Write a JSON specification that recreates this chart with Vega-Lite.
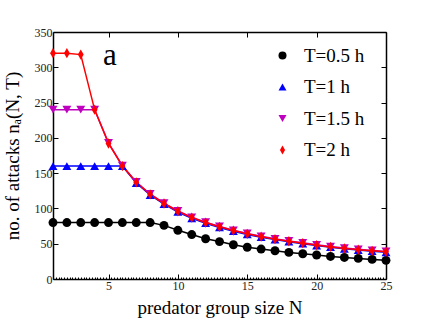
{
  "$schema": "https://vega.github.io/schema/vega-lite/v6.json",
  "width": 333,
  "height": 247,
  "autosize": {"type": "none"},
  "padding": {"left": 53, "top": 32, "right": 41, "bottom": 41},
  "background": "white",
  "config": {
    "view": {"stroke": null},
    "font": "Liberation Serif",
    "axis": {
      "domainColor": "#000000",
      "domainWidth": 1.5,
      "tickColor": "#000000",
      "tickWidth": 1,
      "grid": false,
      "labelFont": "Liberation Serif",
      "labelFontSize": 12,
      "labelColor": "#222222",
      "titleFont": "Liberation Serif",
      "titleFontSize": 19,
      "titleFontWeight": "normal",
      "titleColor": "#000000"
    },
    "legend": {
      "orient": "none",
      "legendX": 220,
      "legendY": 14,
      "padding": 0,
      "labelFont": "Liberation Serif",
      "labelFontSize": 19,
      "labelColor": "#000000",
      "labelOffset": 12,
      "rowPadding": 11.5,
      "symbolSize": 64,
      "symbolStrokeWidth": 0,
      "symbolOpacity": 1
    }
  },
  "data": {
    "values": [
      {"N": 1, "T": "T=0.5 h", "v": 80}, {"N": 2, "T": "T=0.5 h", "v": 80}, {"N": 3, "T": "T=0.5 h", "v": 80}, {"N": 4, "T": "T=0.5 h", "v": 80}, {"N": 5, "T": "T=0.5 h", "v": 80},
      {"N": 6, "T": "T=0.5 h", "v": 80}, {"N": 7, "T": "T=0.5 h", "v": 80}, {"N": 8, "T": "T=0.5 h", "v": 80}, {"N": 9, "T": "T=0.5 h", "v": 76}, {"N": 10, "T": "T=0.5 h", "v": 69},
      {"N": 11, "T": "T=0.5 h", "v": 63}, {"N": 12, "T": "T=0.5 h", "v": 57}, {"N": 13, "T": "T=0.5 h", "v": 53}, {"N": 14, "T": "T=0.5 h", "v": 48.5}, {"N": 15, "T": "T=0.5 h", "v": 45},
      {"N": 16, "T": "T=0.5 h", "v": 42.4}, {"N": 17, "T": "T=0.5 h", "v": 40}, {"N": 18, "T": "T=0.5 h", "v": 37.7}, {"N": 19, "T": "T=0.5 h", "v": 35.8}, {"N": 20, "T": "T=0.5 h", "v": 34},
      {"N": 21, "T": "T=0.5 h", "v": 32}, {"N": 22, "T": "T=0.5 h", "v": 30.6}, {"N": 23, "T": "T=0.5 h", "v": 29.2}, {"N": 24, "T": "T=0.5 h", "v": 27.8}, {"N": 25, "T": "T=0.5 h", "v": 26.4},

      {"N": 1, "T": "T=1 h", "v": 160}, {"N": 2, "T": "T=1 h", "v": 160}, {"N": 3, "T": "T=1 h", "v": 160}, {"N": 4, "T": "T=1 h", "v": 160}, {"N": 5, "T": "T=1 h", "v": 160},
      {"N": 6, "T": "T=1 h", "v": 160}, {"N": 7, "T": "T=1 h", "v": 136}, {"N": 8, "T": "T=1 h", "v": 119}, {"N": 9, "T": "T=1 h", "v": 106}, {"N": 10, "T": "T=1 h", "v": 95},
      {"N": 11, "T": "T=1 h", "v": 86}, {"N": 12, "T": "T=1 h", "v": 79}, {"N": 13, "T": "T=1 h", "v": 73}, {"N": 14, "T": "T=1 h", "v": 67.8}, {"N": 15, "T": "T=1 h", "v": 63.2},
      {"N": 16, "T": "T=1 h", "v": 59.3}, {"N": 17, "T": "T=1 h", "v": 55.8}, {"N": 18, "T": "T=1 h", "v": 52.8}, {"N": 19, "T": "T=1 h", "v": 50}, {"N": 20, "T": "T=1 h", "v": 47.4},
      {"N": 21, "T": "T=1 h", "v": 45}, {"N": 22, "T": "T=1 h", "v": 42.8}, {"N": 23, "T": "T=1 h", "v": 41}, {"N": 24, "T": "T=1 h", "v": 39.4}, {"N": 25, "T": "T=1 h", "v": 37.9},

      {"N": 1, "T": "T=1.5 h", "v": 240}, {"N": 2, "T": "T=1.5 h", "v": 240}, {"N": 3, "T": "T=1.5 h", "v": 240}, {"N": 4, "T": "T=1.5 h", "v": 240}, {"N": 5, "T": "T=1.5 h", "v": 193},
      {"N": 6, "T": "T=1.5 h", "v": 160.5}, {"N": 7, "T": "T=1.5 h", "v": 137.5}, {"N": 8, "T": "T=1.5 h", "v": 120.5}, {"N": 9, "T": "T=1.5 h", "v": 107.5}, {"N": 10, "T": "T=1.5 h", "v": 96.5},
      {"N": 11, "T": "T=1.5 h", "v": 87.5}, {"N": 12, "T": "T=1.5 h", "v": 80.5}, {"N": 13, "T": "T=1.5 h", "v": 74.5}, {"N": 14, "T": "T=1.5 h", "v": 69}, {"N": 15, "T": "T=1.5 h", "v": 64.5},
      {"N": 16, "T": "T=1.5 h", "v": 60.5}, {"N": 17, "T": "T=1.5 h", "v": 57}, {"N": 18, "T": "T=1.5 h", "v": 54}, {"N": 19, "T": "T=1.5 h", "v": 51.3}, {"N": 20, "T": "T=1.5 h", "v": 48.5},
      {"N": 21, "T": "T=1.5 h", "v": 46}, {"N": 22, "T": "T=1.5 h", "v": 43.8}, {"N": 23, "T": "T=1.5 h", "v": 42}, {"N": 24, "T": "T=1.5 h", "v": 40.5}, {"N": 25, "T": "T=1.5 h", "v": 39},

      {"N": 1, "T": "T=2 h", "v": 320}, {"N": 2, "T": "T=2 h", "v": 320}, {"N": 3, "T": "T=2 h", "v": 318}, {"N": 4, "T": "T=2 h", "v": 240}, {"N": 5, "T": "T=2 h", "v": 192},
      {"N": 6, "T": "T=2 h", "v": 160}, {"N": 7, "T": "T=2 h", "v": 137}, {"N": 8, "T": "T=2 h", "v": 120}, {"N": 9, "T": "T=2 h", "v": 107}, {"N": 10, "T": "T=2 h", "v": 96},
      {"N": 11, "T": "T=2 h", "v": 87}, {"N": 12, "T": "T=2 h", "v": 80}, {"N": 13, "T": "T=2 h", "v": 74}, {"N": 14, "T": "T=2 h", "v": 68.6}, {"N": 15, "T": "T=2 h", "v": 64},
      {"N": 16, "T": "T=2 h", "v": 60}, {"N": 17, "T": "T=2 h", "v": 56.5}, {"N": 18, "T": "T=2 h", "v": 53.5}, {"N": 19, "T": "T=2 h", "v": 50.8}, {"N": 20, "T": "T=2 h", "v": 48},
      {"N": 21, "T": "T=2 h", "v": 45.5}, {"N": 22, "T": "T=2 h", "v": 43.4}, {"N": 23, "T": "T=2 h", "v": 41.6}, {"N": 24, "T": "T=2 h", "v": 40}, {"N": 25, "T": "T=2 h", "v": 38.5}
    ]
  },
  "resolve": {"axis": {"x": "independent", "y": "independent"}},
  "layer": [
    {
      "mark": {"type": "point", "opacity": 0},
      "encoding": {
        "x": {"field": "N", "type": "quantitative", "scale": {"domain": [1, 25], "nice": false, "zero": false},
              "axis": {"orient": "top", "values": [5, 10, 15, 20, 25], "tickSize": -5, "labels": false, "title": null}},
        "y": {"field": "v", "type": "quantitative", "scale": {"domain": [0, 350], "nice": false},
              "axis": {"orient": "right", "values": [0, 50, 100, 150, 200, 250, 300, 350], "tickSize": -5, "labels": false, "title": null}}
      }
    },
    {
      "mark": {"type": "line", "strokeWidth": 1.5},
      "encoding": {
        "x": {"field": "N", "type": "quantitative", "scale": {"domain": [1, 25], "nice": false, "zero": false},
              "axis": {"orient": "bottom",
                       "values": [1,1.2,1.4,1.6,1.8,2,2.2,2.4,2.6,2.8,3,3.2,3.4,3.6,3.8,4,4.2,4.4,4.6,4.8,5,5.2,5.4,5.6,5.8,6,6.2,6.4,6.6,6.8,7,7.2,7.4,7.6,7.8,8,8.2,8.4,8.6,8.8,9,9.2,9.4,9.6,9.8,10,10.2,10.4,10.6,10.8,11,11.2,11.4,11.6,11.8,12,12.2,12.4,12.6,12.8,13,13.2,13.4,13.6,13.8,14,14.2,14.4,14.6,14.8,15,15.2,15.4,15.6,15.8,16,16.2,16.4,16.6,16.8,17,17.2,17.4,17.6,17.8,18,18.2,18.4,18.6,18.8,19,19.2,19.4,19.6,19.8,20,20.2,20.4,20.6,20.8,21,21.2,21.4,21.6,21.8,22,22.2,22.4,22.6,22.8,23,23.2,23.4,23.6,23.8,24,24.2,24.4,24.6,24.8,25],
                       "tickSize": {"condition": {"test": "datum.value % 5 === 0", "value": -5}, "value": -2},
                       "labelExpr": "datum.value % 5 === 0 ? format(datum.value, 'd') : ''",
                       "labelFlush": false,
                       "labelOverlap": false,
                       "labelPadding": 6,
                       "title": "predator group size N",
                       "titlePadding": 4}},
        "y": {"field": "v", "type": "quantitative", "scale": {"domain": [0, 350], "nice": false},
              "axis": {"orient": "left", "values": [0, 50, 100, 150, 200, 250, 300, 350], "tickSize": -5,
                       "labelPadding": 6, "labelFlush": false, "labelOverlap": false,
                       "title": "no. of attacks nₐ(N, T)", "titlePadding": 12}},
        "color": {"field": "T", "type": "nominal", "title": null,
                  "scale": {"domain": ["T=0.5 h", "T=1 h", "T=1.5 h", "T=2 h"], "range": ["#000000", "#0000ff", "#bf00bf", "#ff0000"]}}
      }
    },
    {
      "mark": {"type": "point", "filled": true, "opacity": 1, "strokeWidth": 0, "size": 80},
      "encoding": {
        "x": {"field": "N", "type": "quantitative", "axis": null},
        "y": {"field": "v", "type": "quantitative", "axis": null},
        "color": {"field": "T", "type": "nominal", "title": null,
                  "scale": {"domain": ["T=0.5 h", "T=1 h", "T=1.5 h", "T=2 h"], "range": ["#000000", "#0000ff", "#bf00bf", "#ff0000"]}},
        "shape": {"field": "T", "type": "nominal", "title": null,
                  "scale": {"domain": ["T=0.5 h", "T=1 h", "T=1.5 h", "T=2 h"], "range": ["circle", "triangle-up", "triangle-down", "M0,-1.15L0.65,0L0,1.15L-0.65,0Z"]}}
      }
    },
    {
      "data": {"values": [{}]},
      "mark": {"type": "text", "font": "Liberation Serif", "fontSize": 31, "fontWeight": "normal", "align": "center", "baseline": "alphabetic", "color": "#000000"},
      "encoding": {
        "x": {"datum": 5.1, "type": "quantitative", "axis": null},
        "y": {"datum": 303, "type": "quantitative", "axis": null},
        "text": {"value": "a"}
      }
    }
  ]
}
